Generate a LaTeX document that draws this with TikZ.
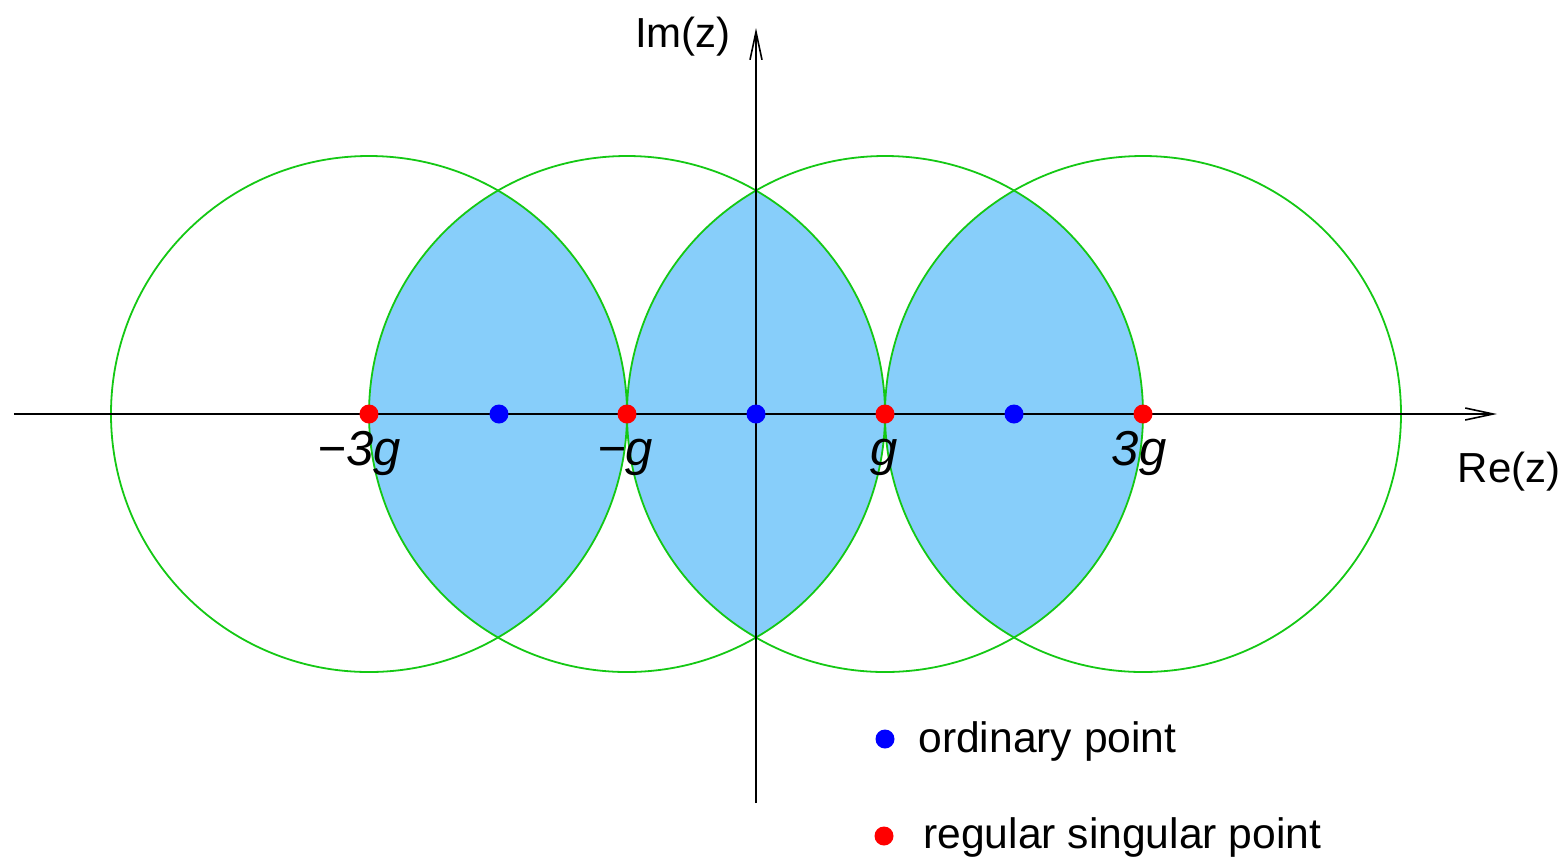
\documentclass[tikz,border=0pt]{standalone}
\usepackage{fontspec}
\setmainfont{Liberation Sans}
\usetikzlibrary{arrows.meta}
\definecolor{lensblue}{RGB}{135,206,250}
\definecolor{circgreen}{RGB}{20,200,20}
\begin{document}
\begin{tikzpicture}[x=0.5pt,y=0.5pt,
  dot/.style={circle,fill,inner sep=0pt,minimum size=9.5pt},
  reddot/.style={dot,fill=red},
  bluedot/.style={dot,fill=blue},
  ring/.style={draw=circgreen,line width=0.9pt},
  axis/.style={draw=black,line width=0.8pt,-{Straight Barb[length=14pt,width=6pt]}},
  ptlabel/.style={anchor=base,inner sep=0pt,font=\fontsize{24.5}{28}\selectfont\itshape},
  axlabel/.style={anchor=base,inner sep=0pt,font=\fontsize{21}{25}\selectfont},
  legtext/.style={anchor=base west,inner sep=0pt,font=\fontsize{21.3}{25}\selectfont}]
\useasboundingbox (-756,-445) rectangle (811,414);
\coordinate (cA) at (-387,0);
\coordinate (cB) at (-129,0);
\coordinate (cC) at (129,0);
\coordinate (cD) at (387,0);
% lenses
\begin{scope}\clip (cA) circle[radius=258]; \fill[lensblue] (cB) circle[radius=258];\end{scope}
\begin{scope}\clip (cB) circle[radius=258]; \fill[lensblue] (cC) circle[radius=258];\end{scope}
\begin{scope}\clip (cC) circle[radius=258]; \fill[lensblue] (cD) circle[radius=258];\end{scope}
% circles
\draw[ring] (cA) circle[radius=258];
\draw[ring] (cB) circle[radius=258];
\draw[ring] (cC) circle[radius=258];
\draw[ring] (cD) circle[radius=258];
% axes
\coordinate (xl) at (-742,0);
\coordinate (xr) at (741,0);
\coordinate (yb) at (0,-389);
\coordinate (yt) at (0,386);
\draw[axis] (xl) -- (xr);
\draw[axis] (yb) -- (yt);
% points
\node[reddot] (r1) at (cA) {};
\node[reddot] (r2) at (cB) {};
\node[reddot] (r3) at (cC) {};
\node[reddot] (r4) at (cD) {};
\node[bluedot] (b1) at (-257,0) {};
\node[bluedot] (b2) at (0,0) {};
\node[bluedot] (b3) at (258,0) {};
% labels
\node[ptlabel] (l1) at (-397,-51) {−3g};
\node[ptlabel] (l2) at (-131,-51) {−g};
\node[ptlabel] (l3) at (128,-51) {g};
\node[ptlabel] (l4) at (383,-51) {3g};
\node[axlabel] (re) at (753,-68) {Re(z)};
\node[axlabel] (im) at (-73,367) {Im(z)};
% legend
\node[bluedot] (lb) at (129,-325) {};
\node[legtext] (lbt) at (162,-338) {ordinary point};
\node[reddot] (lr) at (128,-422) {};
\node[legtext] (lrt) at (167,-434) {regular singular point};
\end{tikzpicture}
\end{document}
